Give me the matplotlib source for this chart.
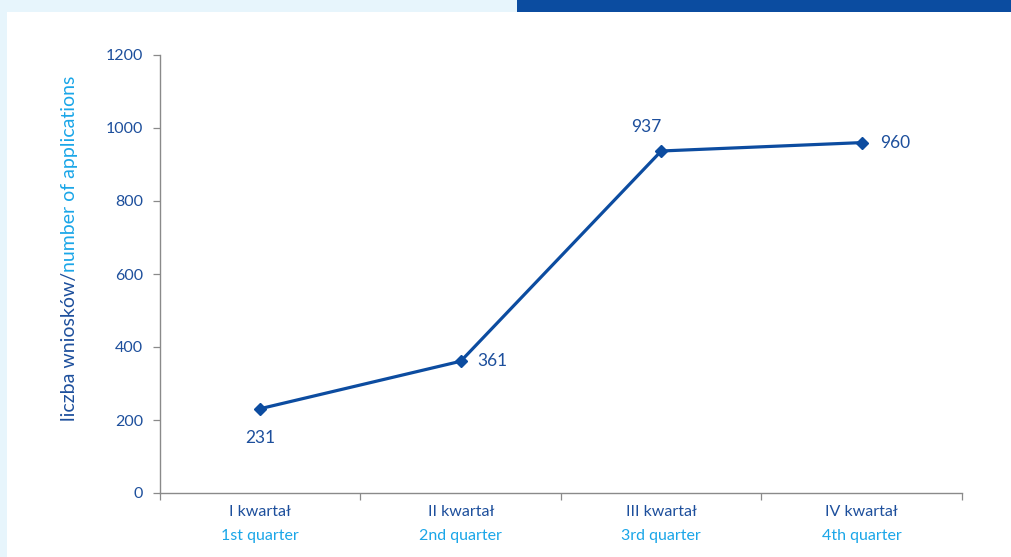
import matplotlib
matplotlib.use("Agg")
import matplotlib.pyplot as plt
from matplotlib.patches import Rectangle
from matplotlib.transforms import blended_transform_factory

# quarterly number of applications
quarters_pl = ["I kwartał", "II kwartał", "III kwartał", "IV kwartał"]
quarters_en = ["1st quarter", "2nd quarter", "3rd quarter", "4th quarter"]
applications = [231, 361, 937, 960]
yticks = [0, 200, 400, 600, 800, 1000, 1200]

DARK = "#1d4f9c"
LIGHT = "#1aa6e8"
LINE = "#0c4ca0"
SPINE = "#8a8a8a"
BG = "#e7f5fc"

plt.rcParams['font.family'] = ['Lato', 'DejaVu Sans']

fig = plt.figure(figsize=(10.12, 5.57), dpi=100)
fig.patch.set_facecolor("white")
# page frame: pale strip top/left, dark band top right
fig.add_artist(Rectangle((0, 0), 7/1012, 1, transform=fig.transFigure, color=BG, lw=0, zorder=0))
fig.add_artist(Rectangle((0, 1 - 12/557), 1, 12/557, transform=fig.transFigure, color=BG, lw=0, zorder=0))
fig.add_artist(Rectangle((517/1012, 1 - 12/557), 1, 12/557, transform=fig.transFigure, color="#0b4ca0", lw=0, zorder=1))

ax = fig.add_axes([160/1012, 1 - 493/557, 802/1012, 438/557])
x = list(range(len(applications)))
ax.plot(x, applications, color=LINE, lw=2.3, marker='D', ms=6.5, mfc=LINE, mec=LINE, zorder=3)

ax.set_xlim(-0.5, len(applications) - 0.5)
ax.set_ylim(0, 1200)
ax.set_yticks(yticks)
ax.tick_params(axis='y', colors=SPINE, labelcolor=DARK, labelsize=11.5, length=5, pad=7, width=0.9)
ax.set_xticks([i - 0.5 for i in range(len(applications) + 1)])
ax.set_xticklabels([])
ax.tick_params(axis='x', colors=SPINE, length=5, width=0.9)
for s in ("top", "right"):
    ax.spines[s].set_visible(False)
for s in ("left", "bottom"):
    ax.spines[s].set_color(SPINE)
    ax.spines[s].set_linewidth(1.0)

# two-line category labels (Polish / English)
tr = blended_transform_factory(ax.transData, ax.transAxes)
for i in x:
    ax.text(i, -19/438, quarters_pl[i], transform=tr, ha='center', va='center', color=DARK, fontsize=11.5)
    ax.text(i, -43/438, quarters_en[i], transform=tr, ha='center', va='center', color=LIGHT, fontsize=11.5)

# value labels
offsets = [(0, -21), (23, 0), (-11, 17), (24, 0)]
for i, (v, (dx, dy)) in enumerate(zip(applications, offsets)):
    ax.annotate(str(v), (i, v), xytext=(dx, dy), textcoords='offset points',
                ha='center', va='center', color=DARK, fontsize=12.5)

# y label in two colours, stacked along the rotated baseline
fig.canvas.draw()
r = fig.canvas.get_renderer()
t1 = fig.text(70/1012, 0, "liczba wniosków/", rotation=90, ha='center', va='center',
              color=DARK, fontsize=14)
t2 = fig.text(70/1012, 0, "number of applications", rotation=90, ha='center', va='center',
              color=LIGHT, fontsize=14)
h1 = t1.get_window_extent(r).height / fig.bbox.height
h2 = t2.get_window_extent(r).height / fig.bbox.height
y0 = (1 - 248/557) - (h1 + h2) / 2
t1.set_position((70/1012, y0 + h1 / 2))
t2.set_position((70/1012, y0 + h1 + h2 / 2))

fig.savefig("out.png", dpi=100)
